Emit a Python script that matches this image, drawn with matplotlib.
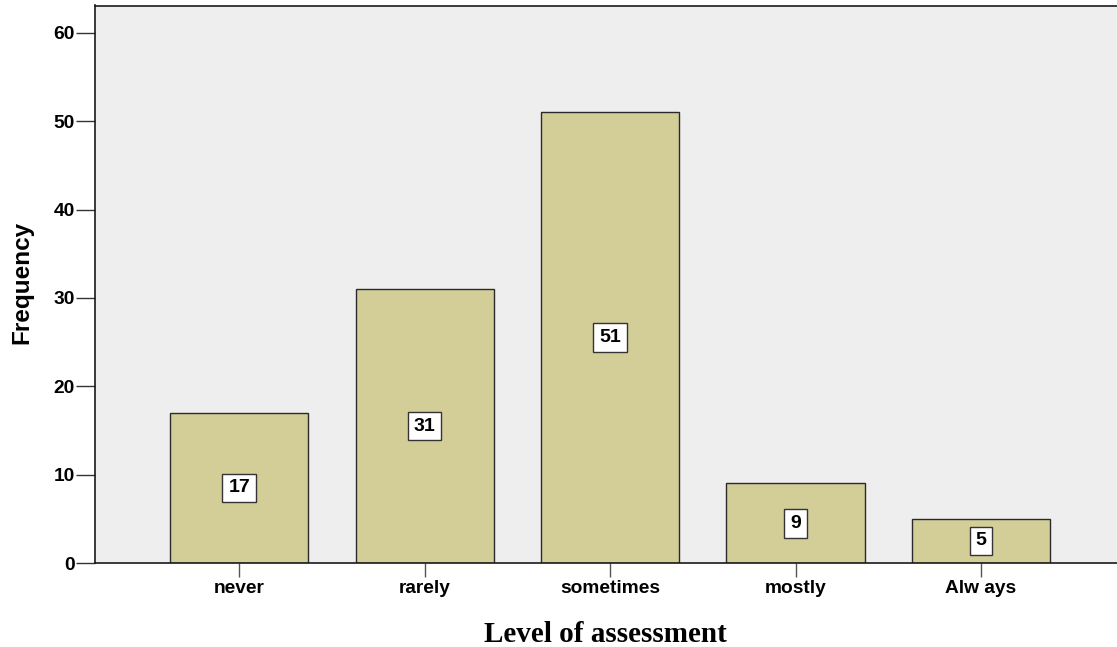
import matplotlib
matplotlib.use("Agg")
import matplotlib.pyplot as plt
import numpy as np

categories = ["never", "rarely", "sometimes", "mostly", "Alw ays"]
frequencies = [17, 31, 51, 9, 5]
y_ticks = [0, 10, 20, 30, 40, 50, 60]

fig = plt.figure(figsize=(11.17, 6.47), dpi=100)
ax = fig.add_axes([94.5 / 1117, 84 / 647, 1 - 94.5 / 1117, (563 - 5.5) / 647])
ax.set_facecolor("#EEEEEE")

x = np.arange(len(categories))
bars = ax.bar(x, frequencies, width=0.745, color="#D3CE98",
              edgecolor="#2a2a2a", linewidth=1.0, zorder=2)

# value labels in white boxes at half bar height
for xi, v in zip(x, frequencies):
    ax.text(xi, v / 2, str(v), ha="center", va="center",
            fontsize=14, fontweight="bold", family="Liberation Sans",
            bbox=dict(boxstyle="square,pad=0.3", facecolor="white",
                      edgecolor="#333333", linewidth=1.0), zorder=3)

ax.set_xlim(-0.78, 4.733)
ax.set_ylim(0, 63.1)
ax.set_yticks(y_ticks)
ax.set_xticks(x)
ax.set_xticklabels(categories)

for lab in ax.get_xticklabels() + ax.get_yticklabels():
    lab.set_family("Liberation Sans")
    lab.set_fontweight("bold")
    lab.set_fontsize(13.8)

ax.tick_params(axis="y", direction="out", length=14, width=1.0, color="#333333", pad=0)
ax.tick_params(axis="x", direction="out", length=10, width=1.0, color="#555555", pad=2)

for side in ["left", "top", "bottom"]:
    ax.spines[side].set_color("#1a1a1a")
    ax.spines[side].set_linewidth(1.2)
ax.spines["right"].set_visible(False)

fig.text(605 / 1117, 1 - 634 / 647, "Level of assessment", ha="center", va="center",
         fontsize=21, fontweight="bold", family="Liberation Serif")
fig.text(22 / 1117, 1 - 282 / 647, "Frequency", ha="center", va="center",
         rotation=90, fontsize=17.5, fontweight="bold", family="Liberation Sans")

fig.savefig("out.png", dpi=100)
